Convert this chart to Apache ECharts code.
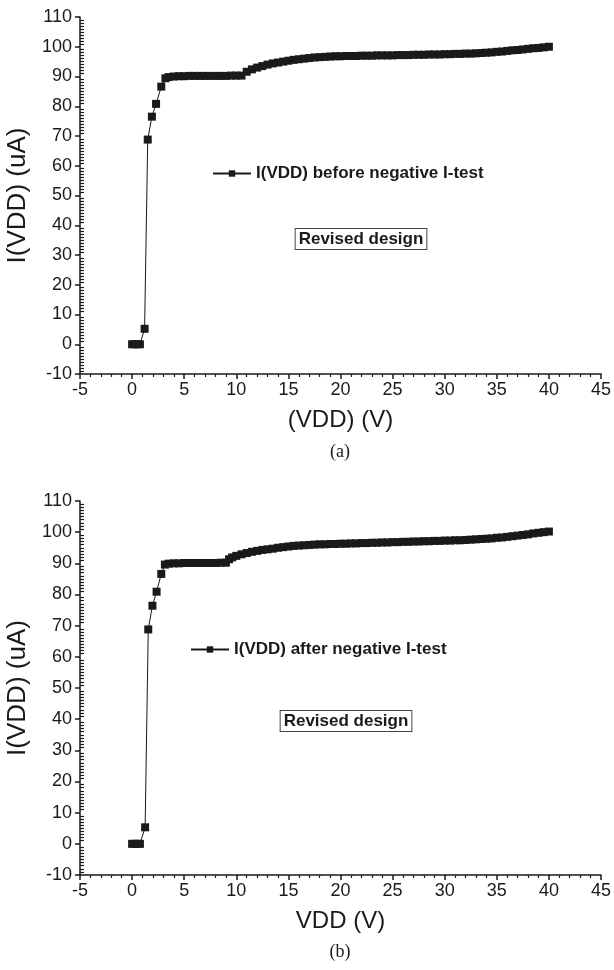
<!DOCTYPE html>
<html>
<head>
    <meta charset="UTF-8">
    <title>I(VDD) vs VDD</title>
    <script src="https://cdn.jsdelivr.net/npm/echarts@6/dist/echarts.min.js"></script>
</head>
<body style="margin:0;background:#fff">

<div id="main" style="width: 614px;height:970px"></div>

<script type="text/javascript">
    // (a) before negative I-test
    var vddA = [0, 0.25, 0.5, 0.75, 1.2, 1.5, 1.9, 2.3, 2.8, 3.2,
        3.5, 4, 4.5, 5, 5.5, 6, 6.5, 7, 7.5, 8, 8.5, 9, 9.5, 10, 10.5,
        11, 11.5, 12, 12.5, 13, 13.5, 14, 14.5, 15, 15.5, 16, 16.5, 17, 17.5, 18, 18.5, 19, 19.5, 20,
        20.5, 21, 21.5, 22, 22.5, 23, 23.5, 24, 24.5, 25, 25.5, 26, 26.5, 27, 27.5, 28, 28.5, 29, 29.5, 30,
        30.5, 31, 31.5, 32, 32.5, 33, 33.5, 34, 34.5, 35, 35.5, 36, 36.5, 37, 37.5, 38, 38.5, 39, 39.5, 40];
    var idA = [0, 0, 0, 0, 5.2, 68.8, 76.5, 80.8, 86.6, 89.4,
        89.8, 90.0, 90.1, 90.1, 90.2, 90.2, 90.2, 90.2, 90.2, 90.2, 90.2, 90.2, 90.3, 90.3, 90.3,
        91.6, 92.4, 93.0, 93.5, 94.0, 94.4, 94.7, 95.0, 95.3, 95.6, 95.8, 96.0, 96.2, 96.4, 96.5, 96.6, 96.7, 96.8, 96.8,
        96.9, 96.9, 96.9, 97.0, 97.0, 97.0, 97.1, 97.1, 97.1, 97.1, 97.2, 97.2, 97.2, 97.3, 97.3, 97.3, 97.4, 97.4, 97.4, 97.5,
        97.5, 97.6, 97.6, 97.7, 97.7, 97.8, 97.9, 98.0, 98.1, 98.3, 98.4, 98.6, 98.8, 98.9, 99.1, 99.3, 99.5, 99.6, 99.8, 100.0];

    // (b) after negative I-test
    var vddB = [0, 0.25, 0.5, 0.75, 1.25, 1.55, 1.95, 2.35, 2.8, 3.15,
        3.5, 4, 4.5, 5, 5.5, 6, 6.5, 7, 7.5, 8, 8.5, 9,
        9.3, 9.6, 10, 10.5, 11, 11.5, 12, 12.5, 13, 13.5, 14, 14.5, 15, 15.5, 16, 16.5, 17, 17.5, 18, 18.5, 19, 19.5, 20,
        20.5, 21, 21.5, 22, 22.5, 23, 23.5, 24, 24.5, 25, 25.5, 26, 26.5, 27, 27.5, 28, 28.5, 29, 29.5, 30,
        30.5, 31, 31.5, 32, 32.5, 33, 33.5, 34, 34.5, 35, 35.5, 36, 36.5, 37, 37.5, 38, 38.5, 39, 39.5, 40];
    var idB = [0, 0, 0, 0, 5.3, 68.8, 76.4, 80.9, 86.6, 89.6,
        89.9, 90.0, 90.0, 90.1, 90.1, 90.1, 90.1, 90.1, 90.1, 90.1, 90.2, 90.2,
        91.3, 91.9, 92.4, 92.9, 93.3, 93.7, 94.0, 94.3, 94.5, 94.7, 95.0, 95.2, 95.4, 95.6, 95.7, 95.8, 95.9, 96.0, 96.1, 96.1, 96.2, 96.2, 96.3,
        96.3, 96.4, 96.4, 96.5, 96.5, 96.6, 96.6, 96.7, 96.7, 96.8, 96.8, 96.9, 96.9, 97.0, 97.0, 97.1, 97.1, 97.2, 97.2, 97.3,
        97.3, 97.4, 97.4, 97.5, 97.6, 97.7, 97.8, 97.9, 98.0, 98.2, 98.3, 98.5, 98.7, 98.9, 99.1, 99.3, 99.6, 99.8, 100.0, 100.2];

    var nameA = 'I(VDD) before negative I-test';
    var nameB = 'I(VDD) after negative I-test';
    var xNames = ['(VDD) (V)', 'VDD (V)'];
    var yName = 'I(VDD) (uA)';

    var font = 'Arial, "Liberation Sans", sans-serif';
    var ink = '#1a1a1a';

    function pairs(xs, ys) {
        var out = [];
        for (var i = 0; i < xs.length; i++) out.push([xs[i], ys[i]]);
        return out;
    }

    function xAxisOf(idx, name) {
        return {
            gridIndex: idx, type: 'value', min: -5, max: 45, interval: 5,
            name: name, nameLocation: 'middle', nameGap: 34,
            nameTextStyle: {fontFamily: font, fontSize: 24, color: ink},
            axisLine: {show: true, onZero: false, lineStyle: {color: ink, width: 1.5}},
            axisTick: {show: true, length: 5, lineStyle: {color: ink, width: 1.5}},
            minorTick: {show: true, splitNumber: 5, length: 3, lineStyle: {color: ink, width: 1.2}},
            axisLabel: {fontFamily: font, fontSize: 18, color: ink, margin: 7},
            splitLine: {show: false}
        };
    }

    function yAxisOf(idx) {
        return {
            gridIndex: idx, type: 'value', min: -10, max: 110, interval: 10,
            name: yName, nameLocation: 'middle', nameGap: 48, nameRotate: 90,
            nameTextStyle: {fontFamily: font, fontSize: 26, color: ink},
            axisLine: {show: true, onZero: false, lineStyle: {color: ink, width: 1.5}},
            axisTick: {show: true, length: 5, lineStyle: {color: ink, width: 1.5}},
            minorTick: {show: true, splitNumber: 10, length: -4, lineStyle: {color: ink, width: 1.2}},
            axisLabel: {fontFamily: font, fontSize: 18, color: ink, margin: 8},
            splitLine: {show: false}
        };
    }

    function seriesOf(idx, name, data) {
        return {
            name: name, type: 'line', xAxisIndex: idx, yAxisIndex: idx,
            data: data, symbol: 'rect', symbolSize: 8, showSymbol: true,
            lineStyle: {color: ink, width: 1},
            itemStyle: {color: ink},
            animation: false
        };
    }

    function legendOf(left, top, name) {
        return {
            data: [name], left: left, top: top, orient: 'horizontal',
            itemWidth: 38, itemHeight: 8, itemGap: 4,
            textStyle: {fontFamily: font, fontSize: 17, fontWeight: 'bold', color: ink},
            selectedMode: false
        };
    }

    function boxText(x, y, text) {
        return {
            type: 'text', x: x, y: y,
            style: {
                text: text, fontFamily: font, fontSize: 17, fontWeight: 'bold', fill: ink,
                align: 'center', verticalAlign: 'middle',
                borderColor: '#444', borderWidth: 1, padding: [2, 3, 1, 3], backgroundColor: '#fff'
            }
        };
    }

    function capText(x, y, text) {
        return {
            type: 'text', x: x, y: y,
            style: {
                text: text, fontFamily: '"Liberation Serif", "Times New Roman", serif', fontSize: 18, fill: ink,
                align: 'center', verticalAlign: 'middle'
            }
        };
    }

    var myChart = echarts.init(document.getElementById('main'), null, {renderer: 'canvas'});
    var option = {
        backgroundColor: '#fff',
        animation: false,
        grid: [
            {left: 80, top: 17, width: 521, height: 357, outerBoundsMode: 'none', containLabel: false},
            {left: 80, top: 501, width: 521, height: 374, outerBoundsMode: 'none', containLabel: false}
        ],
        xAxis: [xAxisOf(0, xNames[0]), xAxisOf(1, xNames[1])],
        yAxis: [yAxisOf(0), yAxisOf(1)],
        legend: [legendOf(207, 160, nameA), legendOf(185, 636, nameB)],
        series: [seriesOf(0, nameA, pairs(vddA, idA)), seriesOf(1, nameB, pairs(vddB, idB))],
        graphic: [
            boxText(361, 239, 'Revised design'),
            boxText(346, 721, 'Revised design'),
            capText(340, 452, '(a)'),
            capText(340, 952, '(b)')
        ]
    };
    myChart.setOption(option);
</script>
</body>
</html>
